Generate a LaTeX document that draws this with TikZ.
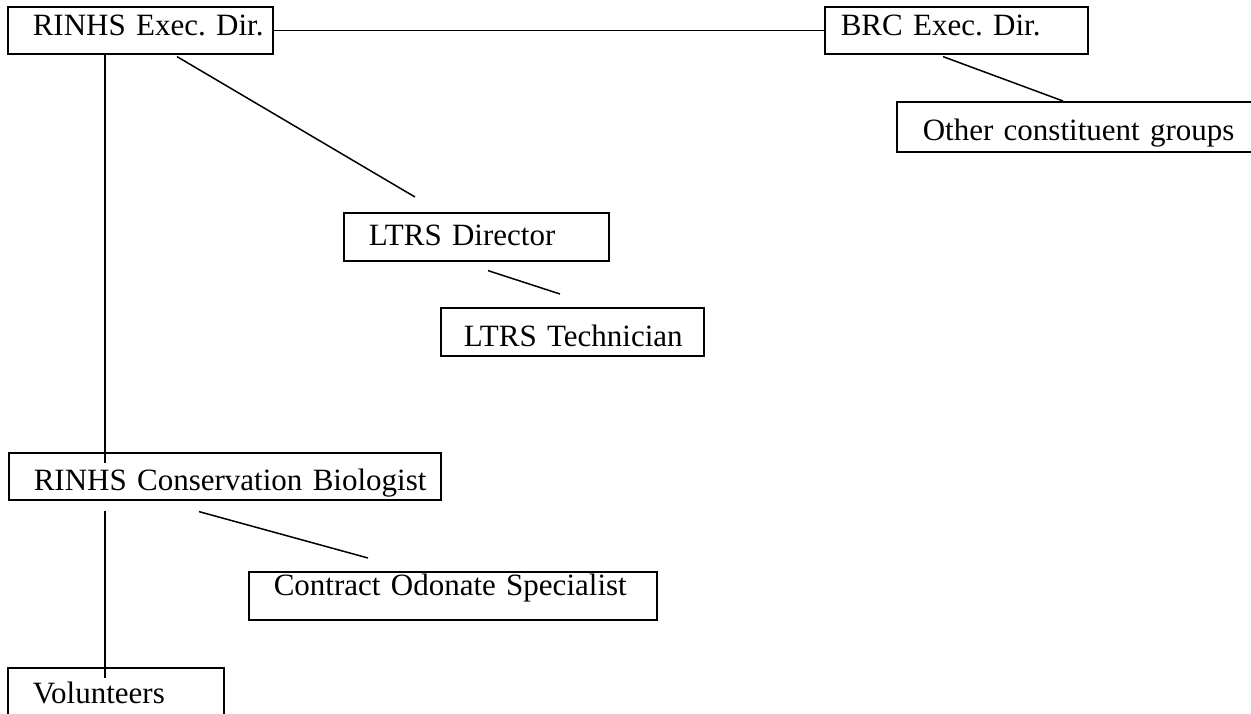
\documentclass[tikz,border=0pt]{standalone}
\usepackage{fontspec}
\setmainfont{Liberation Serif}
\usetikzlibrary{calc}
\frenchspacing
\tikzset{
  orgbox/.style={draw, line width=1.6pt, anchor=north west, inner sep=0pt, align=left,
    font=\fontsize{31}{31}\selectfont\frenchspacing},
  link/.style={line width=1.5pt}
}
\begin{document}
\begin{tikzpicture}[x=1pt,y=-1pt]
\useasboundingbox[fill=white] (0,0) rectangle (1251,713);
% boxes: text width = box width, text height = baseline - top, text depth = bottom - baseline
\node[orgbox, text width=265pt, text height=29pt, text depth=18pt] (a) at (7,6) {\hspace*{25pt}RINHS Exec. Dir.};
\node[orgbox, text width=263pt, text height=29pt, text depth=18pt] (b) at (824,6) {\hspace*{16pt}BRC Exec. Dir.};
\node[orgbox, text width=370pt, text height=39pt, text depth=11pt] (c) at (896,101) {\hspace*{26pt}Other constituent groups};
\node[orgbox, text width=265pt, text height=33pt, text depth=15pt] (d) at (343,212) {\hspace*{25pt}LTRS Director};
\node[orgbox, text width=263pt, text height=39pt, text depth=9pt] (e) at (440,307) {\hspace*{23pt}LTRS Technician};
\node[orgbox, text width=432pt, text height=38pt, text depth=9pt] (f) at (8,452) {\hspace*{25pt}RINHS Conservation Biologist};
\node[orgbox, text width=408pt, text height=24pt, text depth=24pt] (g) at (248,571) {\hspace*{25pt}Contract Odonate Specialist};
\node[orgbox, text width=216pt, text height=36pt, text depth=20pt] (h) at (7,667) {\hspace*{25pt}Volunteers};
% connectors
\draw[link] (a) -- (b);
\draw[link] ($(a.south west)+(98,0)$) -- ($(f.north west)+(97,11)$);
\draw[link] ($(a.south west)+(170,2)$) -- ($(d.north west)+(72,-15)$);
\draw[link] ($(b.south west)+(119,2)$) -- ($(c.north west)+(167,0)$);
\draw[link] ($(d.south west)+(145,9)$) -- ($(e.north west)+(120,-13)$);
\draw[link] ($(f.south west)+(191,11)$) -- ($(g.north west)+(120,-13)$);
\draw[link] ($(f.south west)+(97,10)$) -- ($(h.north west)+(98,11)$);
\end{tikzpicture}
\end{document}
